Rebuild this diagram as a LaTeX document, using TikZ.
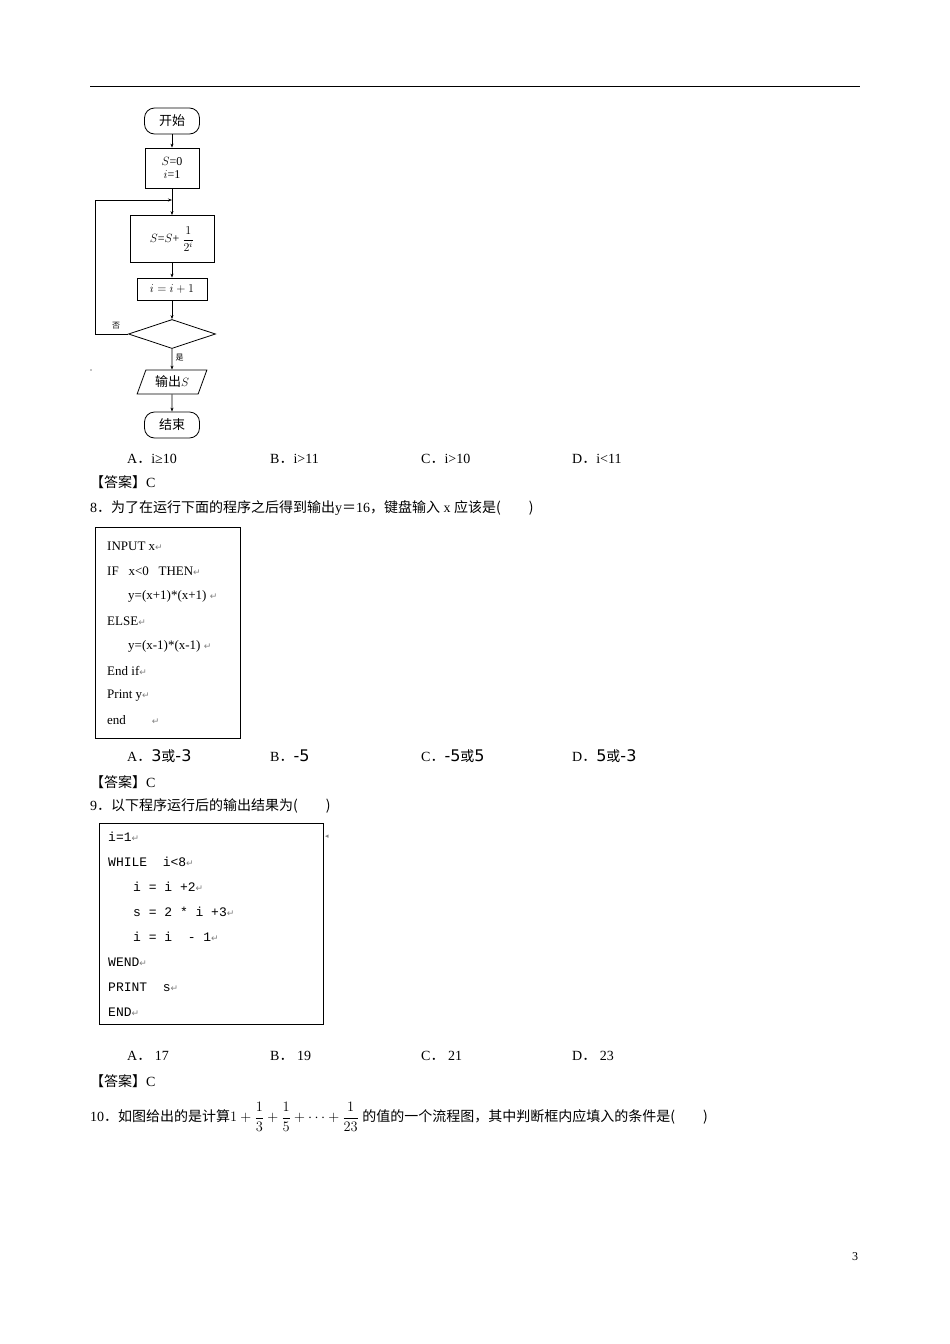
\documentclass[tikz,border=0pt]{standalone}
\usepackage{fontspec}
\usepackage{amsmath}
\setmainfont{Liberation Serif}
\setmonofont{Liberation Mono}
\newfontfamily\cjk{Noto Sans CJK SC}
\newfontfamily\djv{DejaVu Sans}
\usetikzlibrary{shapes.geometric,arrows.meta}
\newcommand{\rt}{{\djv\color{gray}\fontsize{9}{9}\selectfont ↵}}
\newcommand{\dd}{{\cjk ．}}
\begin{document}
\begin{tikzpicture}[x=1pt,y=-1pt,
  fl/.style={draw,line width=0.8pt},
  arr/.style={fl,-{Stealth[length=4pt]}},
  txt/.style={anchor=west,inner sep=0pt,font=\fontsize{14}{16}\selectfont},
  code/.style={anchor=west,inner sep=0pt,font=\fontsize{13}{15}\selectfont},
  mono/.style={anchor=west,inner sep=0pt,font=\ttfamily\fontsize{13}{15}\selectfont}]
\useasboundingbox (0,0) rectangle (950,1344);
\fill[white] (0,0) rectangle (950,1344);
\draw[line width=1pt] (90,86) -- (860,86);
% flowchart
\node[fl,rounded corners=10pt,minimum width=55pt,minimum height=26pt,font=\cjk\fontsize{13}{13}\selectfont] (start) at (172,121) {开始};
\node[fl,minimum width=54pt,minimum height=40pt,align=center,font=\fontsize{12}{13}\selectfont] (init) at (172,168) {$S$=0\\$i$=1};
\node[fl,minimum width=84pt,minimum height=47pt,font=\fontsize{12}{13}\selectfont] (sum) at (172,239) {$S$=$S$+ $\dfrac{1}{2^i}$};
\node[fl,minimum width=70pt,minimum height=22pt,font=\fontsize{12}{13}\selectfont] (inc) at (172,289) {$i=i+1$};
\node[fl,diamond,aspect=3,minimum width=87pt,minimum height=29pt,inner sep=0pt] (dec) at (172,334) {};
\node[fl,trapezium,trapezium left angle=70,trapezium right angle=110,minimum width=70pt,minimum height=24pt,font=\cjk\fontsize{13}{13}\selectfont] (out) at (172,382) {输出$S$};
\node[fl,rounded corners=10pt,minimum width=55pt,minimum height=26pt,font=\cjk\fontsize{13}{13}\selectfont] (end) at (172,425) {结束};
\coordinate (j) at (172,200);
\draw[arr] (start) -- (init);
\draw[fl] (init.south) -- (j);
\draw[arr] (j) -- (sum.north);
\draw[arr] (sum.south) -- (inc.north);
\draw[arr] (inc.south) -- (dec.north);
\draw[arr] (dec.south) -- (out.north) node[pos=0.4,right,font=\cjk\fontsize{8}{8}\selectfont]{是};
\draw[arr] (out.south) -- (end.north);
\draw[arr] (dec.west) -- (95,334) -- (95,200) -- (j);
\node[font=\cjk\fontsize{8}{8}\selectfont] (no) at (116,326) {否};
\fill (91,370) circle (0.7);
% options 7
\node[txt] (a7) at (127,459) {A\dd i≥10};
\node[txt] (b7) at (270,459) {B\dd i>11};
\node[txt] (c7) at (421,459) {C\dd i>10};
\node[txt] (d7) at (572,459) {D\dd i<11};
\node[txt] (ans7) at (90,482) {\cjk【答案】\rmfamily C};
\node[txt] (q8) at (90,508) {8\dd\cjk 为了在运行下面的程序之后得到输出\rmfamily y{\cjk ＝}16\cjk，键盘输入\rmfamily\ x\ \cjk 应该是(\hspace{2em})};
% box 8
\draw[thick] (95,527) rectangle (240,738);
\node[code] at (107,546) {INPUT x\rt};
\node[code] at (107,571) {IF\ \ \ x<0\ \ \ THEN\rt};
\node[code] at (128,596) {y=(x+1)*(x+1)\ \rt};
\node[code] at (107,621) {ELSE\rt};
\node[code] at (128,646) {y=(x-1)*(x-1)\ \rt};
\node[code] at (107,671) {End if\rt};
\node[code] at (107,696) {Print y\rt};
\node[code] at (107,720) {end\hspace{2em}\rt};
\node[txt] (a8) at (127,756) {A\dd{\djv\fontsize{16}{16}\selectfont 3}{\cjk 或}{\djv\fontsize{16}{16}\selectfont -3}};
\node[txt] (b8) at (270,756) {B\dd{\djv\fontsize{16}{16}\selectfont -5}};
\node[txt] (c8) at (421,756) {C\dd{\djv\fontsize{16}{16}\selectfont -5}{\cjk 或}{\djv\fontsize{16}{16}\selectfont 5}};
\node[txt] (d8) at (572,756) {D\dd{\djv\fontsize{16}{16}\selectfont 5}{\cjk 或}{\djv\fontsize{16}{16}\selectfont -3}};
\node[txt] (ans8) at (90,782) {\cjk【答案】\rmfamily C};
\node[txt] (q9) at (90,806) {9\dd\cjk 以下程序运行后的输出结果为(\hspace{2em})};
% box 9
\draw[thick] (99,823) rectangle (323,1024);
\node[font=\djv\fontsize{7}{7}\selectfont,gray] (mk) at (327,837) {◂};
\node[mono] at (108,837) {i=1\rt};
\node[mono] at (108,862) {WHILE\ \ i<8\rt};
\node[mono] at (133,887) {i = i +2\rt};
\node[mono] at (133,912) {s = 2 * i +3\rt};
\node[mono] at (133,937) {i = i\ \ - 1\rt};
\node[mono] at (108,962) {WEND\rt};
\node[mono] at (108,987) {PRINT\ \ s\rt};
\node[mono] at (108,1012) {END\rt};
\node[txt] (a9) at (127,1056) {A\dd\ 17};
\node[txt] (b9) at (270,1056) {B\dd\ 19};
\node[txt] (c9) at (421,1056) {C\dd\ 21};
\node[txt] (d9) at (572,1056) {D\dd\ 23};
\node[txt] (ans9) at (90,1081) {\cjk【答案】\rmfamily C};
\node[txt] (q10) at (90,1117) {10\dd\cjk 如图给出的是计算\rmfamily$\displaystyle 1+\frac{1}{3}+\frac{1}{5}+\cdots+\frac{1}{23}$\ \cjk 的值的一个流程图，其中判断框内应填入的条件是(\hspace{2em})};
\node[font=\fontsize{12}{12}\selectfont] (pg) at (855,1257) {3};
\end{tikzpicture}
\end{document}
